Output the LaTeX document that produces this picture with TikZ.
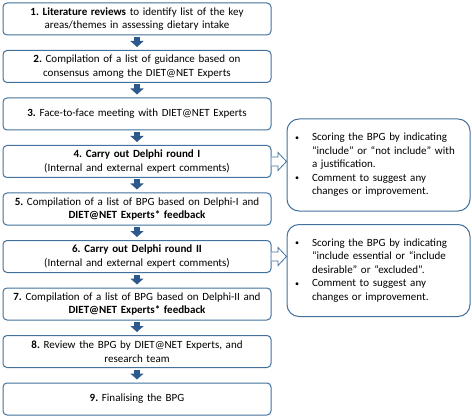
\documentclass[tikz,border=0pt]{standalone}
\usepackage{fontspec}
\setmainfont{Carlito}
\usetikzlibrary{positioning,arrows.meta,calc}
\definecolor{boxblue}{RGB}{65,113,156}
\definecolor{arrowblue}{RGB}{46,89,140}
\newcommand{\pt}{\raisebox{0.5pt}{\fontsize{8}{8}\selectfont•}}
\frenchspacing

\begin{document}
\begin{tikzpicture}[x=1pt,y=1pt]
    \useasboundingbox (0,0) rectangle (472,416);
    \begin{scope}[on grid, node distance=47.5pt,
    		block/.style={rectangle,draw=boxblue,line width=1pt,rounded corners=4pt,fill=white,
    		  text width=262pt,align=center,inner xsep=3pt,inner ysep=2pt,minimum height=32pt,
    		  font=\fontsize{11}{13.5}\selectfont},
    		note/.style={rectangle,draw=boxblue,line width=1pt,rounded corners=12pt,
    		  text width=175pt,align=left,inner xsep=4pt,minimum height=92pt,
    		  font=\fontsize{11}{13.5}\selectfont},
    		arrow/.style={arrowblue,line width=6.5pt,-{Triangle[width=13pt,length=6pt]},
    		  shorten <=1.5pt,shorten >=3pt},
    		hollow/.style={boxblue,line width=0.8pt,fill=white}]

    \node[block] (lit) at (137,397) {\textbf{1. Literature reviews} to identify list of the key\\areas/themes in assessing dietary intake};
    \node[block] (comp) [below=of lit] {\textbf{2.} Compilation of a list of guidance based on\\consensus among the DIET@NET Experts};
    \node[block] (meet) [below=of comp] {\textbf{3.} Face-to-face meeting with DIET@NET Experts};
    \node[block] (round1) [below=of meet] {\textbf{4. Carry out Delphi round I}\\(Internal and external expert comments)};
    \node[block] (list1) [below=of round1] {\textbf{5.} Compilation of a list of BPG based on Delphi-I and\\\textbf{DIET@NET Experts* feedback}};
    \node[block] (round2) [below=of list1] {\textbf{6. Carry out Delphi round II}\\(Internal and external expert comments)};
    \node[block] (list2) [below=of round2] {\textbf{7.} Compilation of a list of BPG based on Delphi-II and\\\textbf{DIET@NET Experts* feedback}};
    \node[block] (review) [below=of list2] {\textbf{8.} Review the BPG by DIET@NET Experts, and\\research team};
    \node[block] (final) [below=of review] {\textbf{9.} Finalising the BPG};

    \node[note] (score1) [right=241.5pt of round1, yshift=-3.5pt] {%
      \begin{tabular}{@{\hspace{4pt}}p{17pt}@{}l@{}}
      \pt & Scoring the BPG by indicating\\
          & “include” or “not include” with\\
          & a justification.\\
      \pt & Comment to suggest any\\
          & changes or improvement.
      \end{tabular}};
    \node[note] (score2) [right=241.5pt of round2, yshift=-14pt] {%
      \begin{tabular}{@{\hspace{4pt}}p{17pt}@{}l@{}}
      \pt & Scoring the BPG by indicating\\
          & “include essential or “include\\
          & desirable” or “excluded”.\\
      \pt & Comment to suggest any\\
          & changes or improvement.
      \end{tabular}};

    \draw[arrow]
    (lit) edge (comp)
    (comp) edge (meet)
    (meet) edge (round1)
    (round1) edge (list1)
    (list1) edge (round2)
    (round2) edge (list2)
    (list2) edge (review)
    (review) edge (final);

    % open block arrows to the notes
    \foreach \r in {round1,round2}
      \draw[hollow] ($(\r.east)+(0,4.5)$) -- ++(6.5,0) -- ++(0,4.5) -- ++(8.5,-9)
        -- ++(-8.5,-9) -- ++(0,4.5) -- ++(-6.5,0);

    \end{scope}
\end{tikzpicture}
\end{document}
